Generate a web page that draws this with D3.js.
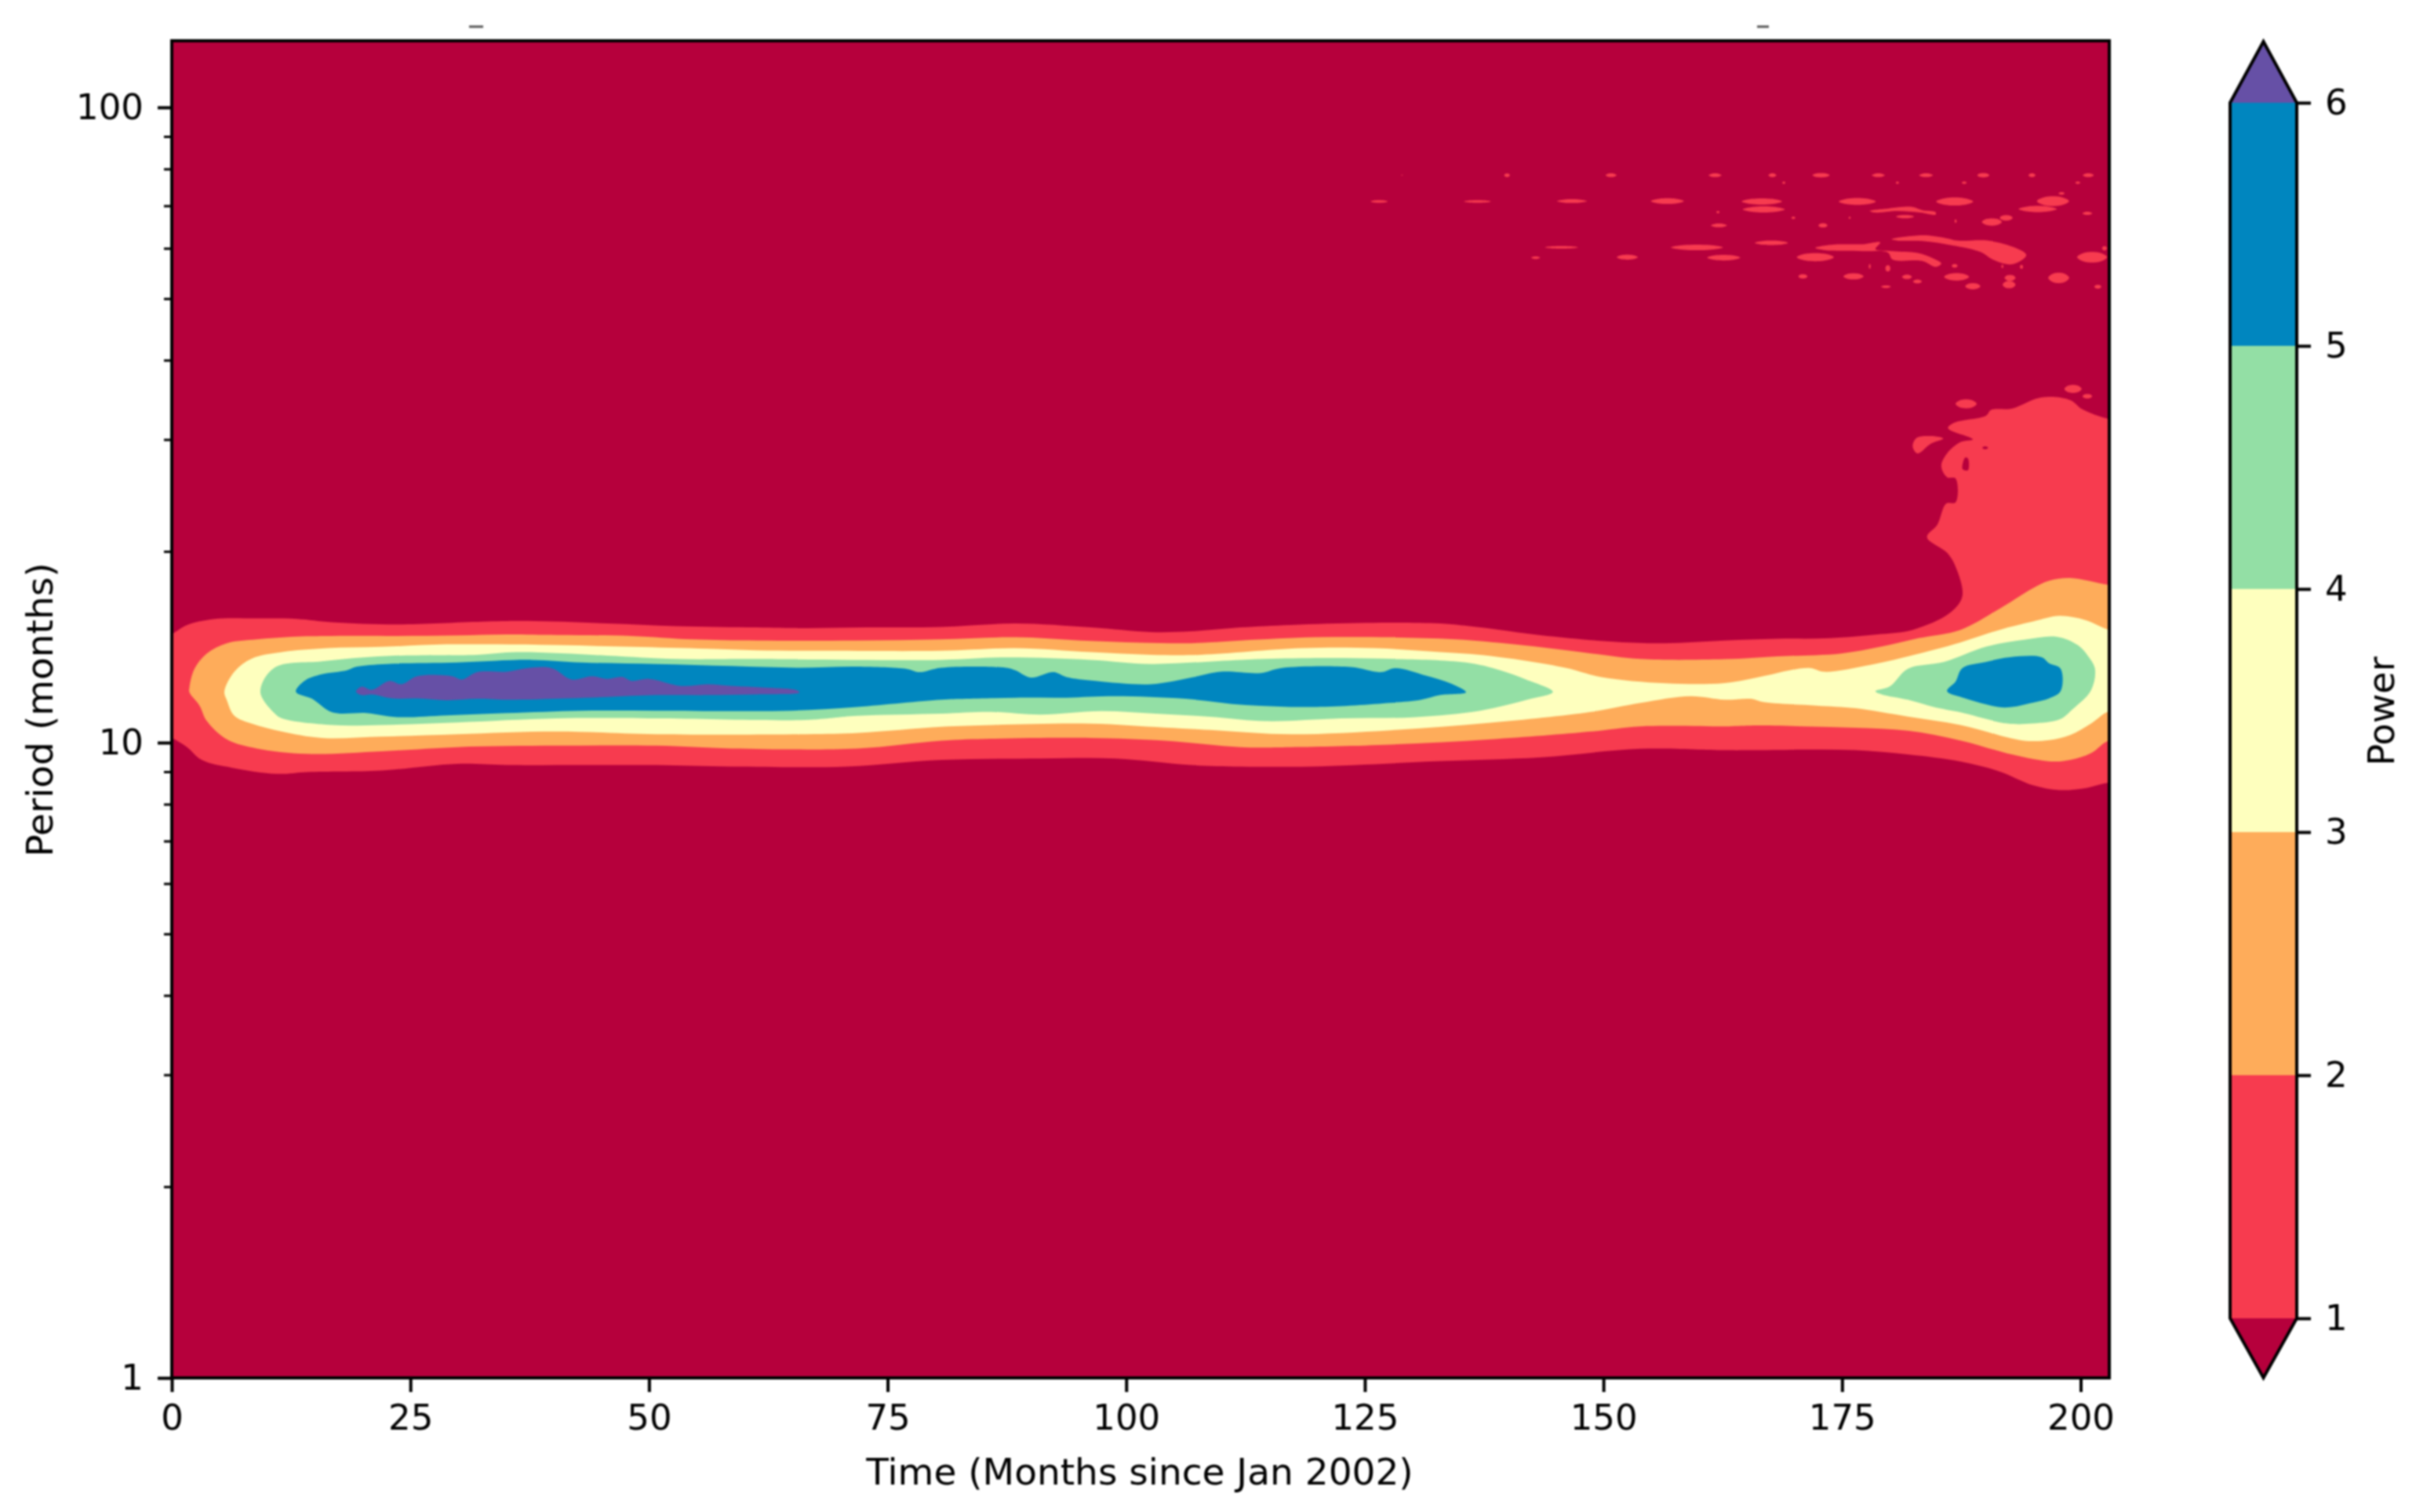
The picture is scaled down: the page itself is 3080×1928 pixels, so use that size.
<!DOCTYPE html>
<html>
<head>
<meta charset="utf-8">
<script src="https://cdn.jsdelivr.net/npm/d3@7"></script>
<style>
  body { margin: 0; background: #fff; }
  svg { filter: blur(0.8px); }
  text { font-family: "DejaVu Sans", sans-serif; fill: #000; }
</style>
</head>
<body>
<svg id="chart" width="3080" height="1928"></svg>
<script>
const xTicks = [0, 25, 50, 75, 100, 125, 150, 175, 200];
const yTicks = [1, 10, 100];
const yMinorTicks = [2, 3, 4, 5, 6, 7, 8, 9, 20, 30, 40, 50, 60, 70, 80, 90];
const powerLevels = [1, 2, 3, 4, 5, 6];
const bandColors = ['#f73b4f', '#feac5a', '#feffbe', '#93dfa5', '#0086bf'];
const belowColor = '#b6003c';
const aboveColor = '#6650a6';

// contour outlines, [month, period]
const power1Main = [[-1,14.7],[0,14.83],[1.6,15.32],[4.5,15.66],[8.9,15.69],[13.1,15.66],[16.8,15.47],[23.6,15.35],[32.5,15.5],[37.2,15.54],[45.6,15.4],[52.9,15.25],[61.3,15.18],[66.5,15.14],[72.8,15.18],[80.6,15.21],[88.4,15.4],[96.3,15.18],[102.6,14.93],[106.8,14.97],[112,15.18],[117.2,15.32],[125.1,15.44],[132.9,15.4],[137.1,15.18],[143.4,14.76],[151.3,14.41],[156.5,14.34],[162.7,14.48],[168.2,14.57],[173.7,14.6],[179.1,14.82],[182.4,15.05],[186.3,16],[187.6,17],[186.9,18.92],[186,19.9],[183.9,21.05],[185,22.05],[185.9,23.77],[186.9,23.89],[186.9,26.05],[186,26.18],[185.4,27.26],[186,28.53],[187.4,29.72],[188.7,30.02],[186.1,31.26],[186.8,31.9],[190.1,32.72],[190.6,33.39],[192.8,33.57],[195.9,34.95],[198.9,34.61],[200.2,33.46],[203,32.3],[206,32],[206,8.6],[203,8.65],[200.5,8.48],[197.8,8.42],[195,8.57],[191.5,9.01],[187.4,9.34],[181.9,9.58],[176.4,9.73],[170.9,9.75],[165.4,9.73],[162.7,9.73],[153.9,9.78],[143.4,9.48],[132.9,9.35],[119.3,9.17],[112,9.17],[106.8,9.22],[98.9,9.44],[91,9.44],[80.6,9.39],[70.7,9.17],[58.7,9.17],[50.8,9.22],[42.95,9.22],[35.1,9.22],[29.9,9.26],[22,9.04],[14.2,8.99],[11,8.93],[6.3,9.13],[3.15,9.39],[1.6,9.84],[0,10.17],[-1,10.3]];
const power1Left = [[182.4,29.26],[182.8,30.17],[184.3,30.38],[185.6,30.11],[184.3,29.56],[182.9,28.53]];
const power1Strand1 = [[172.2,60.1],[174,60.8],[177.2,60.9],[179,61.3],[178.5,59.8],[180.3,59.4],[182.9,59],[184.5,57.9],[185.4,56.8],[184.8,56.1],[183.4,57.3],[180.3,57.6],[179.8,59.1],[177.2,59.4],[173.2,59.6]];
const power1Strand2 = [[180.2,62],[183.4,62.9],[185.8,62.3],[187.1,61.7],[190.3,61.7],[192.9,60.3],[194.3,58.6],[193.7,57.3],[192.6,56.6],[190.8,57.6],[189.5,59.2],[186.6,60.6],[183.4,61.6],[180.8,61.7]];
const power1Strand3 = [[177.9,68.7],[179.8,69.3],[182.4,69.7],[183.4,68.9],[184.8,68.4],[184.8,67.8],[183.2,68.3],[180.8,68.7],[178.5,68.3]];
const power1Hole = [[187.6,27],[187.9,28.1],[188.2,28],[188.2,26.85],[187.8,26.85]];
const power2 = [[1.85,12.22],[2.37,13.06],[3.68,13.82],[5.77,14.34],[8.92,14.54],[12.58,14.68],[16.8,14.72],[23.6,14.72],[29.9,14.75],[35.1,14.8],[40.35,14.77],[48.2,14.72],[54.5,14.54],[61.3,14.48],[71.8,14.48],[80.6,14.54],[88.4,14.65],[95.2,14.48],[101.5,14.37],[106.8,14.34],[112,14.48],[119.9,14.65],[127.7,14.65],[134.5,14.54],[140.8,14.27],[148.7,13.82],[153.9,13.54],[162.7,13.53],[168.2,13.67],[174.8,13.81],[179.1,14.16],[183,14.6],[187.4,15.05],[191.5,16.25],[195,17.5],[196.7,17.98],[198.9,18.16],[203,17.71],[206,17.6],[206,10],[203,10.08],[201.1,9.63],[198.9,9.39],[196.9,9.34],[192.8,9.58],[187.4,10.08],[181.9,10.44],[176.4,10.55],[170.9,10.61],[165.4,10.64],[162.7,10.61],[153.9,10.61],[148.7,10.41],[138.2,10.12],[127.7,9.93],[117.2,9.84],[112,9.84],[104.1,10.07],[96.3,10.17],[85.8,10.14],[80.6,10.07],[71.8,9.79],[58.7,9.79],[50.8,9.89],[40.35,9.89],[29.9,9.84],[22,9.69],[14.15,9.6],[8.92,9.79],[5.77,10.12],[3.68,10.81],[2.9,11.44],[1.85,12]];
const power3 = [[5.51,12.03],[6.56,12.93],[8.39,13.56],[11.54,13.88],[16.25,14.08],[22,14.15],[28.8,14.28],[34.06,14.28],[40.35,14.24],[48.2,14.15],[56.1,14.05],[61.3,13.97],[69.2,13.95],[80.6,13.95],[88.4,14.08],[96.3,13.88],[102.6,13.75],[107.8,13.75],[118.3,14.08],[126.1,14.08],[132.9,13.88],[138.2,13.69],[146,13.12],[149.7,12.69],[156.5,12.4],[162.7,12.41],[166.8,12.73],[169.5,13],[171.7,13.1],[173.1,12.93],[178,13.26],[181.9,13.67],[187.4,14.38],[191.5,15.05],[195,15.51],[197.8,15.83],[200.5,15.59],[203,15.05],[206,14.9],[206,11.3],[203,11.21],[201.1,10.72],[198.9,10.28],[196.7,10.09],[193.9,10.08],[187.4,10.66],[181.9,10.99],[176.4,11.33],[172.3,11.44],[166.8,11.58],[165.4,11.72],[162.7,11.68],[159.1,11.83],[153.9,11.55],[148.7,11.18],[138.2,10.75],[127.7,10.46],[117.2,10.31],[109.4,10.46],[104,10.56],[96.3,10.71],[86,10.66],[80.6,10.59],[72,10.36],[66.5,10.31],[50.8,10.31],[40.35,10.41],[29.9,10.31],[22,10.22],[15.7,10.17],[11.5,10.41],[8.39,10.71],[6.56,11.02],[5.77,11.66]];
const power4Long = [[9.28,12.03],[10.75,13.12],[15.73,13.43],[22.5,13.69],[32,13.75],[36.15,13.88],[45.6,13.71],[52.9,13.54],[61.3,13.54],[80.6,13.5],[87.4,13.62],[96.3,13.5],[102.6,13.3],[112,13.5],[118.3,13.58],[126.7,13.56],[135.6,13.37],[139.2,13],[141.9,12.57],[144.7,12.02],[142.4,11.72],[137.1,11.23],[130.3,10.97],[122.5,10.92],[114.6,10.81],[109.4,10.97],[103.1,11.11],[97.3,11.21],[91,11.07],[85.8,11.18],[80.6,11.11],[71.8,11.02],[66.5,10.86],[50.8,10.92],[40.35,10.92],[29.9,10.76],[22,10.66],[16.8,10.66],[11.54,10.92],[10.75,11.13]];
const power4End = [[178.5,12.05],[180,12.26],[181.9,13.07],[185.7,13.4],[190.1,14.16],[194.2,14.53],[197.5,14.68],[199.7,14.24],[200.8,13.67],[201.5,13.07],[201.1,12.1],[199.1,11.27],[197.8,10.88],[195,10.72],[192.3,10.72],[187.4,11.16],[184.6,11.38],[181.9,11.68],[179.1,11.92]];
const power5Long = [[13,12.03],[13.9,12.51],[15.7,12.81],[18.35,13],[19.4,13.17],[22.5,13.3],[29.9,13.37],[37.7,13.5],[42.95,13.37],[50.8,13.3],[58.7,13.2],[65.5,13.12],[71.8,13.17],[77,13.06],[78.3,12.91],[80.6,13.12],[87.4,13.12],[88.4,13],[90,12.66],[92.4,12.91],[93.7,12.69],[96.8,12.51],[102.6,12.36],[106.8,12.66],[109.9,12.93],[114.1,12.87],[116.2,13.1],[123.5,13.15],[126.7,12.91],[128.2,13.1],[131.4,12.75],[134,12.39],[135.6,12],[132.9,11.88],[130.9,11.68],[127.7,11.55],[119.9,11.38],[112.5,11.46],[106.2,11.72],[98.9,11.83],[93.7,11.77],[88.4,11.77],[83.2,11.72],[80.6,11.68],[71.8,11.38],[65,11.23],[58.7,11.21],[50.8,11.23],[42.95,11.23],[35.1,11.13],[28.8,11.04],[23.6,10.97],[20.4,11.13],[16.8,11.16],[14.7,11.72]];
const power5End = [[186,12.05],[186.9,12.48],[187.6,13.1],[190.1,13.4],[192.6,13.63],[195.9,13.63],[196.7,13.33],[197.9,13.07],[197.9,12.05],[196.7,11.74],[195,11.56],[192.3,11.36],[190.6,11.44],[187.9,11.74]];
const power6 = [[19.3,12.03],[19.9,12.25],[20.96,12.11],[22.8,12.51],[24.1,12.36],[25.7,12.72],[29.35,12.72],[30.4,12.57],[32,12.91],[35.1,12.93],[37.2,13.1],[39.8,13.1],[41.9,12.57],[44,12.72],[45.6,12.6],[47.2,12.69],[48.2,12.51],[50,12.6],[53.4,12.28],[56.1,12.36],[58.9,12.28],[61.8,12.22],[65.5,12.09],[65.75,11.99],[61.3,11.91],[56.1,11.88],[50.8,11.88],[45.6,11.8],[41.4,11.74],[35.1,11.68],[32,11.72],[28.8,11.66],[25.7,11.74],[23.1,11.74],[20.96,11.91],[19.9,11.88]];

// small specks above power 1, [month, period, half month span, half period span]
const power1Specks = [
  [128.9,78.2,.06,.15],[139.9,78.2,.3,.44],[150.8,78.2,.58,.44],[161.7,78.2,.68,.44],[167.7,78.2,.42,.44],[172.8,78.2,.89,.52],[178.8,78.2,.68,.44],[183.8,78.2,.73,.44],[189.8,78.2,.63,.52],[194.9,78.2,.37,.44],[200.8,78.2,.58,.44],
  [168.9,76.1,.16,.29],[180.8,76.1,.16,.29],[187.8,76.1,.26,.29],[199.7,76.1,.26,.29],[198,73.2,.31,.28],
  [126.5,71.1,.89,.27],[136.8,71.1,1.41,.27],[146.7,71.2,1.57,.4],[156.7,71.2,1.73,.6],[166.6,71.1,2.1,.67],[176.6,71.1,1.94,.74],[186.8,71.1,1.94,.87],[197.1,71.2,1.68,1.07],
  [166.8,69.1,2.2,.65],[181.6,67.3,.94,.32],[195.5,69.2,2,.65],
  [162,68.4,.16,.26],[169.9,67,.21,.25],[175.8,67,.1,.25],[186.9,66.2,.1,.38],[200.7,68.1,.52,.32],[162.1,65.2,.84,.37],[173,65.2,.47,.43],[190.7,66,1.05,.75],[192.2,67,.68,.57],
  [145.6,60.2,1.73,.23],[159.8,60.2,2.72,.51],[167.6,61.2,1.73,.41],[142.9,58,.47,.22],[152.5,58.1,1.1,.44],[162.6,58,1.73,.5],[172.2,58.1,1.94,.72],[201.2,58.1,1.57,.94],[202.5,60,.26,.4],
  [177.9,56.2,.1,.43],[179.8,55.8,.26,.58],[186.8,56.3,.31,.32],[191.8,56.2,.1,.32],[193.8,56.1,.16,.37],[170.9,54.2,.47,.36],[176.2,54.2,1.05,.51],[181.8,54.1,.52,.36],[182.9,53.2,.47,.3],[187,54.1,1.31,.62],[188.7,52.3,.79,.5],[179.6,52.2,.52,.2],[192.6,53.9,.58,.51],[192.5,52.6,.68,.6],[197.7,53.9,1.1,.87],[201.8,52.2,.37,.3],
  [188,34.15,1.1,.47],[199.2,36.04,.9,.45],[200.7,35.09,.5,.25]
];
const belowSpecks = [[190,29.12,.3,.12]];

const plot = { left: 219, right: 2689, top: 52, bottom: 1757 };
const svg = d3.select('#chart');

const x = d3.scaleLinear().domain([0, 203]).range([plot.left, plot.right]);
const y = d3.scaleLog().domain([1, 127.3]).range([plot.bottom, plot.top]);

const line = d3.line().x(d => x(d[0])).y(d => y(d[1])).curve(d3.curveCatmullRomClosed.alpha(0.5));

function speckOutline([t, p, dt, dp]) {
    return [[t - dt, p], [t - dt / 2, p + dp], [t + dt / 2, p + dp], [t + dt, p], [t + dt / 2, p - dp], [t - dt / 2, p - dp]];
}

svg.append('clipPath').attr('id', 'plot-clip')
    .append('rect')
    .attr('x', plot.left).attr('y', plot.top)
    .attr('width', plot.right - plot.left).attr('height', plot.bottom - plot.top);

const field = svg.append('g').attr('clip-path', 'url(#plot-clip)');
field.append('rect')
    .attr('x', plot.left).attr('y', plot.top)
    .attr('width', plot.right - plot.left).attr('height', plot.bottom - plot.top)
    .attr('fill', belowColor);

const layers = [
    { fill: bandColors[0], shapes: [power1Main, power1Left, power1Strand1, power1Strand2, power1Strand3, ...power1Specks.map(speckOutline)] },
    { fill: belowColor, shapes: [power1Hole, ...belowSpecks.map(speckOutline)] },
    { fill: bandColors[1], shapes: [power2] },
    { fill: bandColors[2], shapes: [power3] },
    { fill: bandColors[3], shapes: [power4Long, power4End] },
    { fill: bandColors[4], shapes: [power5Long, power5End] },
    { fill: aboveColor, shapes: [power6] },
];
layers.forEach(layer => {
    field.append('g').attr('fill', layer.fill)
        .selectAll('path').data(layer.shapes).join('path').attr('d', line);
});

// axes
function styleAxis(g, width, size) {
    g.select('.domain').remove();
    g.selectAll('.tick line').attr('stroke', '#000').attr('stroke-width', width);
    g.selectAll('.tick text').attr('font-size', size).attr('font-family', '"DejaVu Sans", sans-serif').attr('fill', '#000');
}

svg.append('g').attr('transform', `translate(0,${plot.bottom})`)
    .call(d3.axisBottom(x).tickValues(xTicks).tickFormat(d3.format('d')).tickSize(18).tickPadding(16))
    .call(g => styleAxis(g, 4, 45));

svg.append('g').attr('transform', `translate(${plot.left},0)`)
    .call(d3.axisLeft(y).tickValues(yTicks).tickFormat(d3.format('d')).tickSize(18).tickPadding(18))
    .call(g => styleAxis(g, 4, 45));

svg.append('g').attr('transform', `translate(${plot.left},0)`)
    .call(d3.axisLeft(y).tickValues(yMinorTicks).tickFormat('').tickSize(10))
    .call(g => styleAxis(g, 3, 45));

svg.append('rect')
    .attr('x', plot.left).attr('y', plot.top)
    .attr('width', plot.right - plot.left).attr('height', plot.bottom - plot.top)
    .attr('fill', 'none').attr('stroke', '#000').attr('stroke-width', 4);

svg.append('text').attr('x', 1453).attr('y', 1893).attr('text-anchor', 'middle')
    .attr('font-size', 47).text('Time (Months since Jan 2002)');
svg.append('text').attr('transform', 'translate(67,905) rotate(-90)').attr('text-anchor', 'middle')
    .attr('font-size', 47).text('Period (months)');

// colour bar
const bar = { left: 2843, right: 2928, top: 131, bottom: 1681, tipTop: 53, tipBottom: 1757 };
const barScale = d3.scaleLinear().domain([1, 6]).range([bar.bottom, bar.top]);
const barMid = (bar.left + bar.right) / 2;

svg.append('g').selectAll('rect').data(d3.pairs(powerLevels)).join('rect')
    .attr('x', bar.left).attr('width', bar.right - bar.left)
    .attr('y', d => barScale(d[1]))
    .attr('height', d => barScale(d[0]) - barScale(d[1]))
    .attr('fill', (d, i) => bandColors[i]);

svg.append('polygon')
    .attr('points', [[bar.left, bar.top], [barMid, bar.tipTop], [bar.right, bar.top]].join(' '))
    .attr('fill', aboveColor);
svg.append('polygon')
    .attr('points', [[bar.left, bar.bottom], [barMid, bar.tipBottom], [bar.right, bar.bottom]].join(' '))
    .attr('fill', belowColor);
svg.append('polygon')
    .attr('points', [[bar.left, bar.top], [barMid, bar.tipTop], [bar.right, bar.top], [bar.right, bar.bottom], [barMid, bar.tipBottom], [bar.left, bar.bottom]].join(' '))
    .attr('fill', 'none').attr('stroke', '#000').attr('stroke-width', 4);

svg.append('g').attr('transform', `translate(${bar.right},0)`)
    .call(d3.axisRight(barScale).tickValues(powerLevels).tickFormat(d3.format('d')).tickSize(18).tickPadding(18))
    .call(g => styleAxis(g, 4, 45));

svg.append('text').attr('transform', 'translate(3052,907) rotate(-90)').attr('text-anchor', 'middle')
    .attr('font-size', 46).text('Power');

// stray marks left at the top edge of the original figure
[[598, 616], [2240, 2255]].forEach(([a, b]) => {
    svg.append('line').attr('x1', a).attr('x2', b).attr('y1', 34).attr('y2', 34)
        .attr('stroke', '#555').attr('stroke-width', 3);
});
</script>
</body>
</html>
